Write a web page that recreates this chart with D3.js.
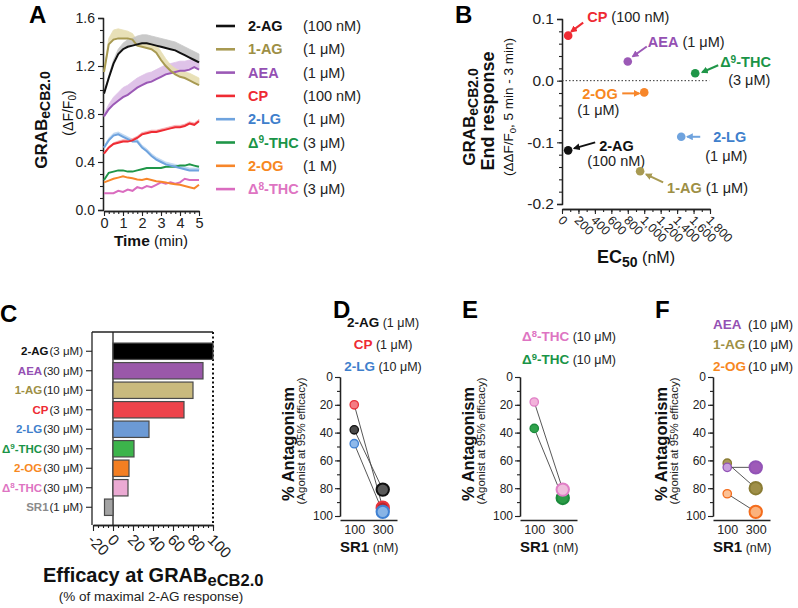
<!DOCTYPE html>
<html>
<head>
<meta charset="utf-8">
<title>GRAB eCB2.0 responses</title>
<script src="https://d3js.org/d3.v7.min.js"></script>
<style>
  body { margin: 0; background: #fff; }
  svg { font-family: "Liberation Sans", Arial, sans-serif; }
</style>
</head>
<body>
<script>
// ---------- data: panel A (time courses, mean and upper SEM) ----------
var timeMin = [0, 0.25, 0.5, 0.75, 1, 1.25, 1.5, 1.75, 2, 2.25, 2.5, 2.75, 3, 3.25, 3.5, 3.75, 4, 4.25, 4.5, 4.75, 5];
var mean2AG = [0.97, 1.10, 1.22, 1.30, 1.34, 1.36, 1.37, 1.38, 1.39, 1.39, 1.38, 1.37, 1.36, 1.35, 1.34, 1.33, 1.31, 1.29, 1.27, 1.25, 1.23];
var sem2AG  = [0.01, 0.02, 0.03, 0.04, 0.05, 0.06, 0.06, 0.07, 0.07, 0.07, 0.07, 0.07, 0.07, 0.07, 0.07, 0.07, 0.07, 0.07, 0.07, 0.07, 0.07];
var mean1AG = [1.15, 1.38, 1.42, 1.43, 1.43, 1.43, 1.42, 1.37, 1.36, 1.35, 1.34, 1.31, 1.25, 1.20, 1.16, 1.13, 1.11, 1.10, 1.08, 1.06, 1.04];
var sem1AG  = [0.02, 0.05, 0.08, 0.08, 0.07, 0.06, 0.05, 0.04, 0.04, 0.05, 0.06, 0.07, 0.07, 0.06, 0.05, 0.05, 0.05, 0.05, 0.06, 0.06, 0.06];
var meanAEA = [0.78, 0.84, 0.88, 0.91, 0.94, 0.96, 0.99, 1.02, 1.04, 1.06, 1.07, 1.09, 1.11, 1.13, 1.14, 1.15, 1.16, 1.16, 1.17, 1.19, 1.17];
var semAEA  = [0.02, 0.04, 0.06, 0.07, 0.08, 0.08, 0.08, 0.08, 0.08, 0.08, 0.08, 0.08, 0.08, 0.08, 0.08, 0.08, 0.08, 0.08, 0.08, 0.07, 0.07];
var meanCP  = [0.47, 0.52, 0.55, 0.56, 0.57, 0.57, 0.58, 0.60, 0.63, 0.64, 0.65, 0.65, 0.66, 0.67, 0.68, 0.69, 0.69, 0.70, 0.72, 0.71, 0.74];
var semCP   = [0.01, 0.01, 0.01, 0.015, 0.015, 0.015, 0.015, 0.015, 0.015, 0.015, 0.015, 0.015, 0.015, 0.015, 0.015, 0.015, 0.015, 0.015, 0.015, 0.015, 0.015];
var mean2LG = [0.52, 0.58, 0.62, 0.63, 0.61, 0.59, 0.57, 0.57, 0.52, 0.49, 0.45, 0.42, 0.40, 0.38, 0.37, 0.36, 0.35, 0.34, 0.33, 0.33, 0.33];
var sem2LG  = [0.01, 0.02, 0.02, 0.02, 0.02, 0.02, 0.02, 0.02, 0.02, 0.02, 0.02, 0.02, 0.02, 0.02, 0.02, 0.02, 0.02, 0.02, 0.02, 0.02, 0.02];
var meanD9  = [0.25, 0.31, 0.32, 0.33, 0.33, 0.32, 0.32, 0.33, 0.34, 0.35, 0.35, 0.35, 0.35, 0.36, 0.36, 0.36, 0.37, 0.37, 0.38, 0.37, 0.36];
var mean2OG = [0.23, 0.245, 0.26, 0.27, 0.28, 0.27, 0.265, 0.255, 0.25, 0.26, 0.25, 0.24, 0.235, 0.23, 0.22, 0.215, 0.21, 0.20, 0.19, 0.18, 0.21];
var meanD8  = [0.14, 0.14, 0.14, 0.16, 0.15, 0.17, 0.16, 0.19, 0.18, 0.20, 0.19, 0.21, 0.23, 0.22, 0.23, 0.22, 0.23, 0.26, 0.25, 0.25, 0.25];
var aNames = ["2-AG", "1-AG", "AEA", "CP", "2-LG", "Δ9-THC", "2-OG", "Δ8-THC"];
var aDoses = ["(100 nM)", "(1 μM)", "(1 μM)", "(100 nM)", "(1 μM)", "(3 μM)", "(1 M)", "(3 μM)"];
var aTicksY = [0, 0.4, 0.8, 1.2, 1.6];
var aTicksX = [0, 1, 2, 3, 4, 5];

// ---------- data: panel B ----------
var bNames = ["CP", "AEA", "Δ9-THC", "2-OG", "2-AG", "2-LG", "1-AG"];
var bDoses = ["(100 nM)", "(1 μM)", "(3 μM)", "(1 μM)", "(100 nM)", "(1 μM)", "(1 μM)"];
var bEC50  = [75, 800, 1620, 1000, 75, 1450, 950];
var bEnd   = [0.073, 0.031, 0.012, -0.019, -0.113, -0.091, -0.147];
var bTicksY = [-0.2, -0.1, 0, 0.1];
var bTicksX = [0, 200, 400, 600, 800, 1000, 1200, 1400, 1600, 1800];

// ---------- data: panel C ----------
var cNames = ["2-AG", "AEA", "1-AG", "CP", "2-LG", "Δ9-THC", "2-OG", "Δ8-THC", "SR1"];
var cDoses = ["(3 μM)", "(30 μM)", "(10 μM)", "(3 μM)", "(30 μM)", "(30 μM)", "(30 μM)", "(30 μM)", "(1 μM)"];
var cEfficacy = [100, 90, 80, 71, 36, 21, 16, 15, -8.5];
var cTicks = [-20, 0, 20, 40, 60, 80, 100];

// ---------- data: panels D, E, F ----------
var sr1Doses = ["100", "300"];
var dNames = ["2-AG", "CP", "2-LG"];
var dDoses = ["(1 μM)", "(1 μM)", "(10 μM)"];
var dAt100 = [38, 20, 48];
var dAt300 = [81, 94, 97];
var eNames = ["Δ8-THC", "Δ9-THC"];
var eDoses = ["(10 μM)", "(10 μM)"];
var eAt100 = [18, 37];
var eAt300 = [81, 87];
var fNames = ["AEA", "1-AG", "2-OG"];
var fDoses = ["(10 μM)", "(10 μM)", "(10 μM)"];
var fAt100 = [65, 62, 84];
var fAt300 = [65, 80, 97];
var antTicks = [0, 20, 40, 60, 80, 100];

// ---------- colours ----------
var lineColor = {"2-AG": "#111111", "1-AG": "#a89a52", "AEA": "#9b59b6", "CP": "#ef2b33",
  "2-LG": "#6fa3de", "Δ9-THC": "#1f9648", "2-OG": "#f7862a", "Δ8-THC": "#da6cbf", "SR1": "#8c8c8c"};
var textColor = {"2-AG": "#111111", "1-AG": "#9d8f45", "AEA": "#9450b3", "CP": "#ee2a33",
  "2-LG": "#3f7fcc", "Δ9-THC": "#1a9447", "2-OG": "#f7881f", "Δ8-THC": "#de74c2", "SR1": "#8a8a8a"};
var bandColor = {"2-AG": "#c4c4c4", "1-AG": "#e6ddb0", "AEA": "#dcbde6", "CP": "#f6a0a4", "2-LG": "#b8d3f0"};
var barColor = {"2-AG": "#000000", "AEA": "#9a58a9", "1-AG": "#c9ba7e", "CP": "#ee434b", "2-LG": "#6c9ad5",
  "Δ9-THC": "#3cb44b", "2-OG": "#f47f22", "Δ8-THC": "#ebaad3", "SR1": "#a3a3a3"};
var dotStyle = {
  "2-AG": {f1: "#4a4a4a", f3: "#5a5a5a", s: "#111"},
  "CP": {f1: "#f47c84", f3: "#b8262e", s: "#e8333c"},
  "2-LG": {f1: "#8fb9ea", f3: "#88b4e6", s: "#3f80d2"},
  "Δ8-THC": {f1: "#f2b2da", f3: "#efbedc", s: "#e07fc6"},
  "Δ9-THC": {f1: "#2fa24c", f3: "#2c9c47", s: "#1b8a3c"},
  "AEA": {f1: "#c8a0de", f3: "#9e5ab8", s: "#9253b6"},
  "1-AG": {f1: "#a8995a", f3: "#9f8f48", s: "#8a7c34"},
  "2-OG": {f1: "#fcc195", f3: "#fbb27c", s: "#f46c1c"}
};

var ink = "#222";
var svg = d3.select("body").append("svg").attr("width", 798).attr("height", 608);
var defs = svg.append("defs");

// ---------- helpers ----------
function styleAxis(g, size) {
  g.select(".domain").attr("stroke", ink).attr("stroke-width", 1.3);
  g.selectAll(".tick line").attr("stroke", ink).attr("stroke-width", 1.1);
  g.selectAll(".tick text").attr("fill", ink).style("font-size", size + "px").style("font-family", "Liberation Sans, Arial, sans-serif");
}
// "Δ9-THC" -> Δ + superscript 9 + -THC
function addName(sel, name) {
  var m = /^Δ(\d)(.*)$/.exec(name);
  if (m) {
    sel.append("tspan").text("Δ");
    sel.append("tspan").attr("dy", "-0.45em").style("font-size", "0.7em").text(m[1]);
    sel.append("tspan").attr("dy", "0.315em").text(m[2]);
  } else {
    sel.append("tspan").text(name);
  }
}
function addSub(sel, main, sub, subSize, shift) {
  sel.append("tspan").text(main);
  sel.append("tspan").attr("dy", shift).style("font-size", subSize + "px").text(sub);
  return sel;
}
function panelLetter(t, x, y) {
  svg.append("text").attr("x", x).attr("y", y).attr("font-size", 24).attr("font-weight", "bold")
    .attr("fill", "#000").text(t);
}
function vTitle(x, y) {
  return svg.append("text").attr("transform", "translate(" + x + "," + y + ") rotate(-90)")
    .attr("text-anchor", "middle").attr("fill", "#111");
}

// ================= panel A =================
panelLetter("A", 29, 23);
var xA = d3.scaleLinear().domain([0, 5]).range([104, 199]);
var yA = d3.scaleLinear().domain([0, 1.6]).range([210, 18]);

svg.append("g").attr("transform", "translate(103,0)")
  .call(d3.axisLeft(yA).tickValues(d3.range(0, 1.61, 0.1)).tickSize(3).tickFormat("").tickSizeOuter(0))
  .call(styleAxis, 14);
svg.append("g").attr("transform", "translate(103,0)")
  .call(d3.axisLeft(yA).tickValues(aTicksY).tickSize(5).tickPadding(3).tickFormat(function(d) { return d.toFixed(1); }))
  .call(styleAxis, 14);
svg.append("g").attr("transform", "translate(0,211)")
  .call(d3.axisBottom(xA).tickValues(d3.range(0, 5.01, 0.25)).tickSize(3).tickFormat("").tickSizeOuter(0))
  .call(styleAxis, 14);
svg.append("g").attr("transform", "translate(0,211)")
  .call(d3.axisBottom(xA).tickValues(aTicksX).tickSize(5).tickPadding(2).tickFormat(d3.format("d")).tickSizeOuter(0))
  .call(styleAxis, 14.5);

var aMeans = [mean2AG, mean1AG, meanAEA, meanCP, mean2LG, meanD9, mean2OG, meanD8];
var aSems = [sem2AG, sem1AG, semAEA, semCP, sem2LG, null, null, null];
var aSeries = aNames.map(function(n, i) { return {name: n, dose: aDoses[i], mean: aMeans[i], sem: aSems[i]}; });

var bandArea = function(s) {
  return d3.area()
    .x(function(d, i) { return xA(timeMin[i]); })
    .y0(function(d, i) { return yA(s.mean[i]); })
    .y1(function(d, i) { return yA(s.mean[i] + s.sem[i]); })(s.mean);
};
var meanLine = function(s) {
  return d3.line().x(function(d, i) { return xA(timeMin[i]); }).y(function(d) { return yA(d); })(s.mean);
};
var drawOrder = [7, 6, 5, 4, 3, 2, 1, 0];
drawOrder.forEach(function(i) {
  var s = aSeries[i];
  if (s.sem) {
    svg.append("path").attr("d", bandArea(s)).attr("fill", bandColor[s.name])
      .attr("stroke", bandColor[s.name]).attr("stroke-width", 0.8).attr("opacity", 0.9);
  }
});
drawOrder.forEach(function(i) {
  var s = aSeries[i];
  svg.append("path").attr("d", meanLine(s)).attr("fill", "none")
    .attr("stroke", lineColor[s.name]).attr("stroke-width", 2);
});

// legend A
aSeries.forEach(function(s, i) {
  var yy = 26 + i * 23.3;
  svg.append("line").attr("x1", 216).attr("x2", 235).attr("y1", yy).attr("y2", yy)
    .attr("stroke", lineColor[s.name]).attr("stroke-width", 2.6);
  var t = svg.append("text").attr("x", 248).attr("y", yy + 5).attr("font-size", 14.5)
    .attr("font-weight", "bold").attr("fill", textColor[s.name]);
  addName(t, s.name);
  svg.append("text").attr("x", 303).attr("y", yy + 5).attr("font-size", 14.5).attr("fill", ink).text(s.dose);
});

addSub(vTitle(47, 120).attr("font-size", 17).attr("font-weight", "bold"), "GRAB", "eCB2.0", 14, 3);
var fa = vTitle(73, 113).attr("font-size", 14);
addSub(fa, "(ΔF/F", "0", 10, 3);
fa.append("tspan").attr("dy", -3).text(")");
var tl = svg.append("text").attr("x", 151).attr("y", 246).attr("text-anchor", "middle").attr("fill", "#111");
tl.append("tspan").attr("font-size", 15.5).attr("font-weight", "bold").text("Time");
tl.append("tspan").attr("font-size", 15).text(" (min)");

// ================= panel B =================
panelLetter("B", 455, 23);
var xB = d3.scaleLinear().domain([0, 1800]).range([562, 710]);
var yB = d3.scaleLinear().domain([-0.2, 0.1]).range([204, 19]);

svg.append("g").attr("transform", "translate(562,0)")
  .call(d3.axisLeft(yB).tickValues(d3.range(-0.2, 0.101, 0.02)).tickSize(3).tickFormat("").tickSizeOuter(0))
  .call(styleAxis, 15);
svg.append("g").attr("transform", "translate(562,0)")
  .call(d3.axisLeft(yB).tickValues(bTicksY).tickSize(5).tickPadding(3).tickFormat(function(d) { return d.toFixed(1); }))
  .call(styleAxis, 15.5);
svg.append("g").attr("transform", "translate(0,209)")
  .call(d3.axisBottom(xB).tickValues(d3.range(0, 1801, 100)).tickSize(3).tickFormat("").tickSizeOuter(0))
  .call(styleAxis, 12);
var gxB = svg.append("g").attr("transform", "translate(0,209)")
  .call(d3.axisBottom(xB).tickValues(bTicksX).tickSize(5).tickFormat(d3.format(",")).tickSizeOuter(0))
  .call(styleAxis, 12.5);
gxB.selectAll(".tick text").attr("x", 0).attr("y", 0).attr("dy", "0.35em")
  .attr("transform", "translate(-2,9) rotate(45)").style("text-anchor", "start");

svg.append("line").attr("x1", xB(0)).attr("x2", xB(1790)).attr("y1", yB(0)).attr("y2", yB(0))
  .attr("stroke", "#333").attr("stroke-width", 1).attr("stroke-dasharray", "1.5,2");

// annotation layout: arrow tail / tip and label positions relative to each point (px)
var bNotes = {
  "CP":     {tail: [15, -13], tip: [3, -4],  lab: [19, -14], dose: null},
  "AEA":    {tail: [19, -15], tip: [5, -5],  lab: [20, -15], dose: null},
  "Δ9-THC": {tail: [23, -8],  tip: [7, -1],  lab: [25, -6],  dose: [33, 12]},
  "2-OG":   {tail: [-22, 1],  tip: [-5, 1],  lab: [-62, 7],  dose: [-67, 23]},
  "2-AG":   {tail: [27, -8],  tip: [6, -2],  lab: [31, 1],   dose: [19, 16]},
  "2-LG":   {tail: [19, 0],   tip: [6, 0],   lab: [32, 5],   dose: [24, 24]},
  "1-AG":   {tail: [23, 11],  tip: [6, 3],   lab: [27, 22],  dose: null}
};
bNames.forEach(function(n, i) {
  var id = "arr" + i;
  defs.append("marker").attr("id", id).attr("viewBox", "0 0 10 10").attr("refX", 8).attr("refY", 5)
    .attr("markerWidth", 7).attr("markerHeight", 7).attr("markerUnits", "userSpaceOnUse").attr("orient", "auto")
    .append("path").attr("d", "M0,0L10,5L0,10z").attr("fill", lineColor[n]);
});
bNames.forEach(function(n, i) {
  var px = xB(bEC50[i]), py = yB(bEnd[i]), a = bNotes[n];
  svg.append("circle").attr("cx", px).attr("cy", py).attr("r", 4.3).attr("fill", lineColor[n]);
  svg.append("line").attr("x1", px + a.tail[0]).attr("y1", py + a.tail[1])
    .attr("x2", px + a.tip[0]).attr("y2", py + a.tip[1])
    .attr("stroke", lineColor[n]).attr("stroke-width", 2).attr("marker-end", "url(#arr" + i + ")");
  var t = svg.append("text").attr("x", px + a.lab[0]).attr("y", py + a.lab[1]).attr("font-size", 14.5);
  var nm = t.append("tspan").attr("font-weight", "bold").attr("fill", textColor[n]);
  addName(nm, n);
  if (a.dose) {
    svg.append("text").attr("x", px + a.dose[0]).attr("y", py + a.dose[1]).attr("font-size", 14.5)
      .attr("fill", ink).text(bDoses[i]);
  } else {
    t.append("tspan").attr("fill", ink).text(" " + bDoses[i]);
  }
});

addSub(vTitle(475, 117).attr("font-size", 17).attr("font-weight", "bold"), "GRAB", "eCB2.0", 14, 3);
vTitle(494, 111).attr("font-size", 18).attr("font-weight", "bold").text("End response");
var fb = vTitle(513, 107).attr("font-size", 13.5);
addSub(fb, "(ΔΔF/F", "0", 9.5, 3);
fb.append("tspan").attr("dy", -3).text(", 5 min - 3 min)");
var ec = svg.append("text").attr("x", 636).attr("y", 263).attr("text-anchor", "middle").attr("fill", "#111");
var ecb = ec.append("tspan").attr("font-weight", "bold").attr("font-size", 18);
addSub(ecb, "EC", "50", 14, 4);
ec.append("tspan").attr("dy", -4).attr("font-size", 16).text(" (nM)");

// ================= panel C =================
panelLetter("C", 0, 322);
var xC = d3.scaleLinear().domain([-20, 100]).range([93, 213]);
var yC = d3.scaleBand().domain(cNames).range([341.5, 517]).paddingInner(0.16).paddingOuter(0.08);

svg.append("line").attr("x1", 92).attr("x2", 213).attr("y1", 332).attr("y2", 332).attr("stroke", ink).attr("stroke-width", 1.3);
svg.append("line").attr("x1", 92).attr("x2", 92).attr("y1", 332).attr("y2", 525).attr("stroke", ink).attr("stroke-width", 1.3);
svg.append("line").attr("x1", xC(0)).attr("x2", xC(0)).attr("y1", 332).attr("y2", 525).attr("stroke", ink).attr("stroke-width", 1.3);
svg.append("line").attr("x1", xC(100)).attr("x2", xC(100)).attr("y1", 332).attr("y2", 525)
  .attr("stroke", "#111").attr("stroke-width", 2).attr("stroke-dasharray", "2,2.5");

svg.selectAll(".cbar").data(cNames).enter().append("rect").attr("class", "cbar")
  .attr("x", function(d, i) { return xC(Math.min(0, cEfficacy[i])); })
  .attr("y", function(d) { return yC(d); })
  .attr("width", function(d, i) { return Math.abs(xC(cEfficacy[i]) - xC(0)); })
  .attr("height", yC.bandwidth())
  .attr("fill", function(d) { return barColor[d]; })
  .attr("stroke", "#4a4a4a").attr("stroke-width", 1.2);

var gyC = svg.append("g").attr("transform", "translate(92,0)")
  .call(d3.axisLeft(yC).tickSize(6).tickFormat("").tickSizeOuter(0)).call(styleAxis, 11);
gyC.select(".domain").remove();
cNames.forEach(function(n, i) {
  var t = svg.append("text").attr("x", 83).attr("y", yC(n) + yC.bandwidth() / 2 + 4)
    .attr("text-anchor", "end").attr("font-size", 11.5);
  var nm = t.append("tspan").attr("font-weight", "bold").attr("fill", textColor[n]);
  addName(nm, n);
  t.append("tspan").attr("fill", ink).attr("dx", 1).text(cDoses[i]);
});

svg.append("g").attr("transform", "translate(0,525)")
  .call(d3.axisBottom(xC).tickValues(d3.range(-20, 101, 5)).tickSize(3).tickFormat("").tickSizeOuter(0))
  .call(styleAxis, 12);
var gxC = svg.append("g").attr("transform", "translate(0,525)")
  .call(d3.axisBottom(xC).tickValues(cTicks).tickSize(6).tickFormat(function(d) { return String(d); }).tickSizeOuter(0))
  .call(styleAxis, 15.5);
gxC.selectAll(".tick text").attr("x", 0).attr("y", 0).attr("dy", "0.35em")
  .attr("transform", "translate(-3,12) rotate(45)").style("text-anchor", "start");

var et = svg.append("text").attr("x", 43).attr("y", 582).attr("fill", "#111").attr("font-weight", "bold").attr("font-size", 20);
addSub(et, "Efficacy at GRAB", "eCB2.0", 16.5, 4);
svg.append("text").attr("x", 151).attr("y", 601).attr("text-anchor", "middle").attr("font-size", 13.5)
  .attr("fill", ink).text("(% of maximal 2-AG response)");

// ================= panels D, E, F =================
function antagonismPanel(p) {
  var x = d3.scalePoint().domain(sr1Doses).range([p.x0, p.x0 + 57]).padding(0.5);
  var y = d3.scaleLinear().domain([0, 100]).range([377, 516]);
  svg.append("g").attr("transform", "translate(" + p.x0 + ",0)")
    .call(d3.axisLeft(y).tickValues(d3.range(0, 101, 10)).tickSize(3).tickFormat("").tickSizeOuter(0))
    .call(styleAxis, 11);
  svg.append("g").attr("transform", "translate(" + p.x0 + ",0)")
    .call(d3.axisLeft(y).tickValues(antTicks).tickSize(5).tickPadding(2).tickSizeOuter(0))
    .call(styleAxis, 12);
  svg.append("g").attr("transform", "translate(0,520)")
    .call(d3.axisBottom(x).tickSize(0).tickPadding(5).tickSizeOuter(0))
    .call(styleAxis, 12.5);

  var order = p.order;
  order.forEach(function(i) {
    svg.append("line").attr("x1", x("100")).attr("y1", y(p.v100[i])).attr("x2", x("300")).attr("y2", y(p.v300[i]))
      .attr("stroke", "#444").attr("stroke-width", 0.9);
  });
  order.forEach(function(i) {
    var st = dotStyle[p.names[i]];
    svg.append("circle").attr("cx", x("100")).attr("cy", y(p.v100[i])).attr("r", 4.2)
      .attr("fill", st.f1).attr("stroke", st.s).attr("stroke-width", 1.3);
  });
  order.forEach(function(i) {
    var st = dotStyle[p.names[i]];
    svg.append("circle").attr("cx", x("300")).attr("cy", y(p.v300[i])).attr("r", 6.2)
      .attr("fill", st.f3).attr("stroke", st.s).attr("stroke-width", 2);
  });

  vTitle(p.x0 - 46, 444).attr("font-size", 16.5).attr("font-weight", "bold").text("% Antagonism");
  vTitle(p.x0 - 35, 441).attr("font-size", 11.5).attr("fill", ink).text("(Agonist at 95% efficacy)");
  var sr = svg.append("text").attr("x", p.x0).attr("y", 552).attr("fill", "#111");
  sr.append("tspan").attr("font-weight", "bold").attr("font-size", 15).text("SR1");
  sr.append("tspan").attr("font-size", 12.5).attr("fill", ink).text(" (nM)");

  p.names.forEach(function(n, i) {
    var yy = p.legY[i];
    var t = svg.append("text").attr("x", p.legX).attr("y", yy).attr("text-anchor", p.anchor);
    var nm = t.append("tspan").attr("font-weight", "bold").attr("font-size", 13.5).attr("fill", textColor[n]);
    addName(nm, n);
    if (p.doseX) {
      svg.append("text").attr("x", p.doseX).attr("y", yy).attr("font-size", 13).attr("fill", ink).text(p.doses[i]);
    } else {
      t.append("tspan").attr("font-size", 12.5).attr("fill", ink).text(" " + p.doses[i]);
    }
  });
}

panelLetter("D", 333, 318);
antagonismPanel({x0: 340, names: dNames, doses: dDoses, v100: dAt100, v300: dAt300, order: [0, 1, 2],
  legX: 383, legY: [327, 349, 371], anchor: "middle", doseX: null});
panelLetter("E", 462, 318);
antagonismPanel({x0: 520, names: eNames, doses: eDoses, v100: eAt100, v300: eAt300, order: [1, 0],
  legX: 522, legY: [341, 364], anchor: "start", doseX: null});
panelLetter("F", 655, 318);
antagonismPanel({x0: 713, names: fNames, doses: fDoses, v100: fAt100, v300: fAt300, order: [2, 1, 0],
  legX: 713, legY: [329, 349, 371], anchor: "start", doseX: 748});
</script>
</body>
</html>
